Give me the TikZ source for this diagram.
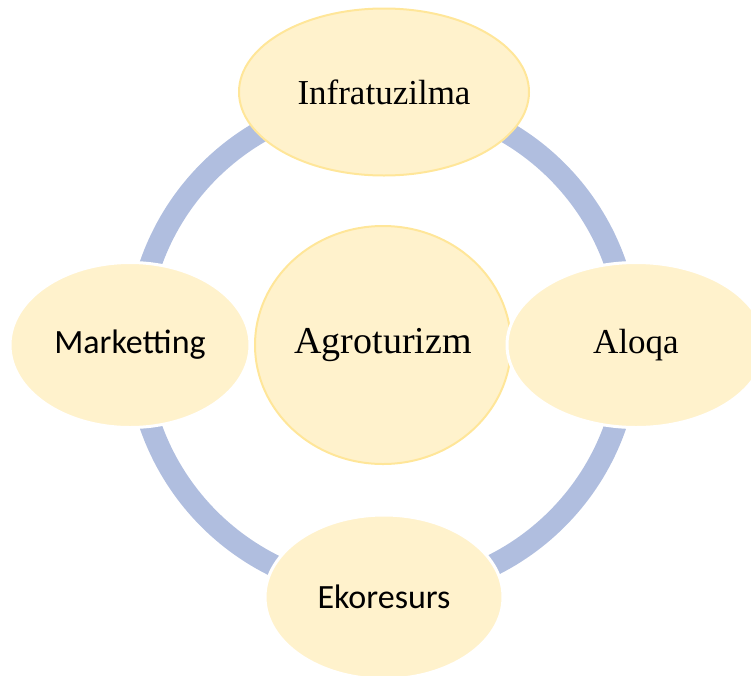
\documentclass[tikz,border=0pt]{standalone}
\usepackage{fontspec}
\setmainfont{Liberation Serif}
\newfontfamily\calib{Carlito}
\usetikzlibrary{shapes.geometric}
\definecolor{fillY}{HTML}{FFF2CC}
\definecolor{lineY}{HTML}{FFE699}
\definecolor{ringB}{RGB}{176,190,223}
\tikzset{
  bub/.style={ellipse, fill=fillY, inner sep=0pt, text=black},
  yel/.style={bub, draw=lineY, line width=2pt},
  wht/.style={bub, draw=white, line width=3pt},
  serifbig/.style={font=\fontsize{35}{40}\selectfont},
  sansbig/.style={font=\calib\fontsize{34}{40}\selectfont}
}
\begin{document}
\begin{tikzpicture}[x=1pt,y=-1pt]
\useasboundingbox (0,0) rectangle (751,675);
\coordinate (c) at (383,345);
\draw[ringB, line width=22pt] (c) circle[radius=246pt];
\node[yel, serifbig, minimum width=290pt, minimum height=167pt] (infra) at (384,92) {Infratuzilma};
\node[yel, font=\fontsize{38}{44}\selectfont, minimum width=256pt, minimum height=238pt] (agro) at (383,345) {Agroturizm};
\node[wht, sansbig, minimum width=240pt, minimum height=165pt] (market) at (130,345) {Marketting};
\node[wht, serifbig, minimum width=258pt, minimum height=165pt] (aloqa) at (636,345) {Aloqa};
\node[wht, sansbig, minimum width=238pt, minimum height=164pt] (eko) at (384,597) {Ekoresurs};
\end{tikzpicture}
\end{document}
